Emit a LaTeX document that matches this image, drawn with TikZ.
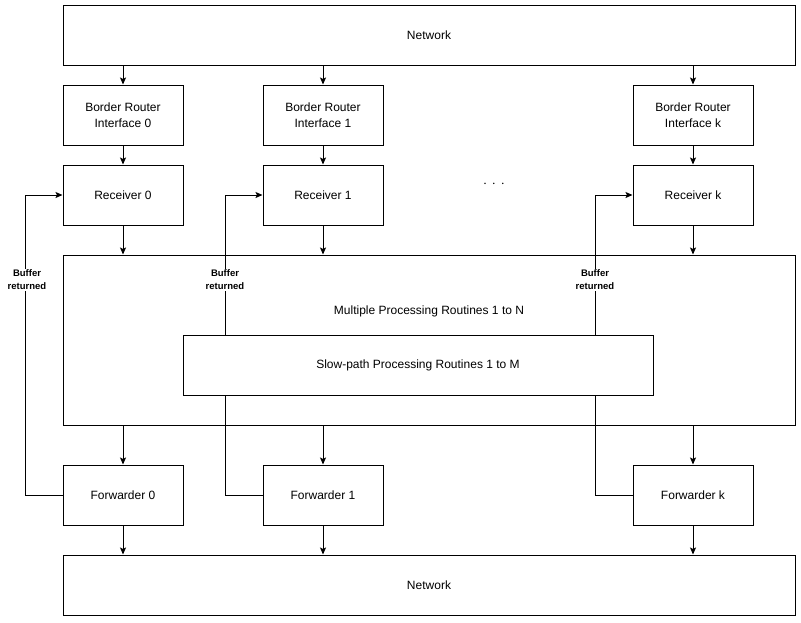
\documentclass[tikz,border=0pt]{standalone}
\usepackage{fontspec}
\setmainfont{Liberation Sans}
\usetikzlibrary{arrows.meta}
\begin{document}
\begin{tikzpicture}[x=1pt,y=-1pt,
  box/.style={draw,line width=1pt,fill=white,minimum width=120pt,minimum height=60pt,inner sep=0pt,align=center,font=\fontsize{12}{16}\selectfont},
  wide/.style={draw,line width=1pt,fill=white,inner sep=0pt,font=\fontsize{12}{16}\selectfont},
  arr/.style={line width=1pt,-{Stealth[length=7pt,width=6pt,inset=1.5pt]}},
  lbl/.style={fill=white,inner sep=1pt,align=center,font=\bfseries\fontsize{9.5}{13}\selectfont}]
\useasboundingbox (0,0) rectangle (801,622);
% big boxes
\node[wide,minimum width=732pt,minimum height=60pt] (net1) at (429,35) {Network};
\node[wide,minimum width=732pt,minimum height=60pt] (net2) at (429,585) {Network};
\node[draw,line width=1pt,minimum width=732pt,minimum height=170pt,inner sep=0pt] (proc) at (429,340) {};
% border routers
\node[box] (br0) at (123,115) {Border Router\\Interface 0};
\node[box] (br1) at (323,115) {Border Router\\Interface 1};
\node[box] (brk) at (693,115) {Border Router\\Interface k};
% receivers
\node[box] (rx0) at (123,195) {Receiver 0};
\node[box] (rx1) at (323,195) {Receiver 1};
\node[box] (rxk) at (693,195) {Receiver k};
\node[font=\fontsize{14}{14}\selectfont] (dots) at (494,184) {$\cdot\!\;\cdot\!\;\cdot$};
% forwarders
\node[box] (fw0) at (123,495) {Forwarder 0};
\node[box] (fw1) at (323,495) {Forwarder 1};
\node[box] (fwk) at (693,495) {Forwarder k};
% buffer returned loops
\coordinate (a0) at (25,495); \coordinate (b0) at (25,195);
\coordinate (a1) at (225,495); \coordinate (b1) at (225,195);
\coordinate (ak) at (595,495); \coordinate (bk) at (595,195);
\draw[arr] (fw0.west) -- (a0) -- (b0) -- (rx0.west);
\draw[arr] (fw1.west) -- (a1) -- (b1) -- (rx1.west);
\draw[arr] (fwk.west) -- (ak) -- (bk) -- (rxk.west);
\node[lbl] (l0) at (27,280) {Buffer\\returned};
\node[lbl] (l1) at (225,280) {Buffer\\returned};
\node[lbl] (lk) at (595,280) {Buffer\\returned};
% processing texts
\node[font=\fontsize{12}{14}\selectfont] (mp) at (429,311) {Multiple Processing Routines 1 to N};
\node[wide,minimum width=470pt,minimum height=60pt] (slow) at (418,365) {Slow-path Processing Routines 1 to M};
% vertical arrows
\foreach \x in {0,1,k}{
  \draw[arr] (net1.south -| br\x) -- (br\x.north);
  \draw[arr] (br\x) -- (rx\x);
  \draw[arr] (rx\x.south) -- (rx\x.south |- proc.north);
  \draw[arr] (fw\x.north |- proc.south) -- (fw\x.north);
  \draw[arr] (fw\x.south) -- (fw\x.south |- net2.north);
}
\end{tikzpicture}
\end{document}
